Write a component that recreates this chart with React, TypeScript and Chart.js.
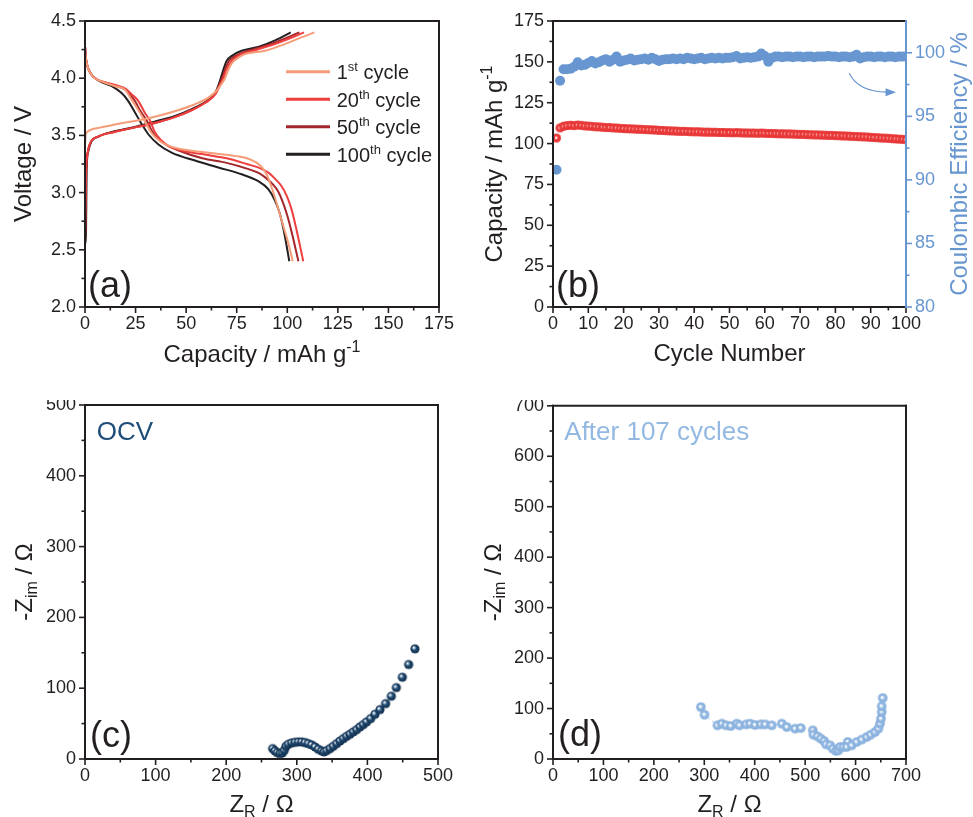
import React, { useEffect, useRef } from 'react';
import { Chart, registerables } from 'chart.js';

Chart.register(...registerables);

const FONT = '"Liberation Sans", Arial, Helvetica, sans-serif';
const INK = '#231F20';
const CE_BLUE = '#6896D0';
const NAVY = '#1E4A72';
const LIGHT_BLUE = '#93B9E3';
const CAP_RED = '#EE3B3B';

// ---------------- Panel (a): charge / discharge profiles ----------------
const A_COLORS = ['#F59C78', '#EE3E3E', '#A3262A', '#231F20'];
const A_LEGEND = [['1', 'st'], ['20', 'th'], ['50', 'th'], ['100', 'th']];

const A_CHG_1: [number, number][] = [[0, 3.42], [0.4, 3.51], [1, 3.53], [3, 3.55], [8, 3.57], [16, 3.6], [26, 3.63], [36, 3.67], [46, 3.72], [54, 3.77], [61, 3.83], [65, 3.89], [67.5, 3.95], [69.2, 4.0], [71, 4.08], [73, 4.14], [75, 4.17], [79, 4.21], [89, 4.24], [99, 4.3], [106, 4.35], [113.4, 4.4]];
const A_CHG_20: [number, number][] = [[0, 2.55], [0.3, 2.9], [0.6, 3.2], [1.2, 3.33], [2.5, 3.43], [6.6, 3.49], [14.8, 3.53], [24.7, 3.57], [34.6, 3.61], [44.5, 3.66], [52.7, 3.72], [60, 3.79], [64.5, 3.86], [66.8, 3.94], [68.4, 4.0], [70, 4.08], [72.5, 4.15], [76, 4.2], [84, 4.245], [95.6, 4.31], [108.3, 4.4]];
const A_CHG_50: [number, number][] = [[0, 2.55], [0.3, 2.95], [0.6, 3.22], [1.2, 3.34], [2.5, 3.43], [6.6, 3.49], [14, 3.53], [23, 3.565], [33, 3.6], [44, 3.66], [52.5, 3.72], [59.5, 3.79], [64, 3.86], [66.3, 3.94], [67.7, 4.0], [69.3, 4.08], [71.2, 4.15], [75, 4.2], [80.7, 4.24], [92, 4.3], [106, 4.4]];
const A_CHG_100: [number, number][] = [[0, 2.55], [0.5, 2.64], [0.8, 3.19], [1.6, 3.36], [3.3, 3.45], [6.6, 3.49], [13.2, 3.53], [21.4, 3.56], [28, 3.59], [36.3, 3.63], [44.5, 3.67], [52.7, 3.73], [59.3, 3.79], [64, 3.86], [66, 3.94], [67.1, 4.0], [68.5, 4.08], [70, 4.15], [73, 4.2], [77.4, 4.24], [86, 4.275], [94, 4.33], [101.7, 4.4]];

const A_DIS_1: [number, number][] = [[0, 4.28], [0.3, 4.2], [1, 4.12], [2.5, 4.05], [5, 4.0], [10, 3.96], [15, 3.93], [19.8, 3.9], [23.4, 3.8], [26.4, 3.72], [29.7, 3.62], [33, 3.52], [36.3, 3.46], [40, 3.42], [46, 3.385], [58, 3.355], [70, 3.33], [80, 3.3], [85, 3.26], [88, 3.21], [90, 3.15], [92, 3.06], [94, 2.95], [96, 2.83], [98.5, 2.68], [100.5, 2.56], [102.7, 2.4]];
const A_DIS_20: [number, number][] = [[0, 4.28], [0.3, 4.2], [1, 4.12], [2.5, 4.05], [5, 4.0], [10, 3.965], [15, 3.94], [20, 3.91], [23, 3.86], [26.4, 3.8], [29.5, 3.7], [32.1, 3.63], [34.5, 3.53], [37.5, 3.46], [42, 3.4], [50, 3.36], [60, 3.33], [70, 3.3], [80, 3.25], [87, 3.21], [91, 3.17], [94, 3.12], [97, 3.06], [99.5, 2.98], [102, 2.86], [104.5, 2.68], [107.9, 2.4]];
const A_DIS_50: [number, number][] = [[0, 4.28], [0.3, 4.2], [1, 4.12], [2.5, 4.05], [5, 4.0], [10, 3.96], [15, 3.935], [20, 3.9], [22.5, 3.85], [24.7, 3.8], [27.5, 3.71], [30.5, 3.63], [33, 3.54], [36, 3.47], [40, 3.42], [46, 3.37], [58, 3.3], [70, 3.26], [80, 3.21], [86, 3.17], [90, 3.12], [93, 3.07], [95.5, 3.01], [97.5, 2.93], [100, 2.8], [102.5, 2.63], [105.5, 2.4]];
const A_DIS_100: [number, number][] = [[0, 4.28], [0.3, 4.2], [1, 4.12], [2.5, 4.05], [6.6, 3.98], [13.2, 3.93], [18.1, 3.87], [21.4, 3.8], [24.7, 3.7], [28, 3.6], [31.3, 3.51], [36.3, 3.42], [42.8, 3.35], [54.4, 3.28], [65.9, 3.22], [77.4, 3.16], [85.7, 3.1], [90.6, 3.03], [93.9, 2.93], [96.4, 2.81], [98.9, 2.61], [101, 2.4]];

// ---------------- Panel (b): cycling ----------------
const B_CYCLE = [1, 2, 3, 4, 5, 6, 7, 8, 9, 10, 11, 12, 13, 14, 15, 16, 17, 18, 19, 20, 21, 22, 23, 24, 25, 26, 27, 28, 29, 30, 31, 32, 33, 34, 35, 36, 37, 38, 39, 40, 41, 42, 43, 44, 45, 46, 47, 48, 49, 50, 51, 52, 53, 54, 55, 56, 57, 58, 59, 60, 61, 62, 63, 64, 65, 66, 67, 68, 69, 70, 71, 72, 73, 74, 75, 76, 77, 78, 79, 80, 81, 82, 83, 84, 85, 86, 87, 88, 89, 90, 91, 92, 93, 94, 95, 96, 97, 98, 99, 100];
const B_CAPACITY = [103.4, 109.6, 110.6, 111.0, 111.2, 111.0, 111.3, 111.1, 110.8, 110.7, 110.5, 110.3, 110.2, 110.0, 109.8, 109.8, 109.6, 109.5, 109.3, 109.2, 109.1, 109.0, 108.9, 108.8, 108.7, 108.6, 108.5, 108.4, 108.3, 108.1, 108.0, 107.9, 107.8, 107.7, 107.6, 107.5, 107.5, 107.4, 107.3, 107.2, 107.2, 107.1, 107.0, 107.0, 106.9, 106.9, 106.8, 106.8, 106.7, 106.7, 106.6, 106.7, 106.6, 106.5, 106.5, 106.4, 106.4, 106.3, 106.4, 106.3, 106.2, 106.2, 106.1, 106.0, 106.0, 105.9, 105.9, 105.8, 105.7, 105.6, 105.6, 105.5, 105.4, 105.3, 105.3, 105.2, 105.1, 105.0, 105.0, 104.9, 104.8, 104.7, 104.6, 104.5, 104.4, 104.3, 104.2, 104.1, 104.0, 103.8, 103.7, 103.6, 103.4, 103.3, 103.2, 103.0, 102.9, 102.7, 102.6, 102.4];
const B_CE = [90.8, 97.8, 98.7, 98.7, 98.75, 98.9, 99.25, 99.0, 99.05, 99.2, 99.35, 99.15, 99.25, 99.4, 99.5, 99.3, 99.45, 99.7, 99.3, 99.4, 99.45, 99.55, 99.4, 99.45, 99.5, 99.55, 99.45, 99.6, 99.5, 99.35, 99.45, 99.5, 99.5, 99.55, 99.5, 99.55, 99.5, 99.6, 99.55, 99.5, 99.55, 99.6, 99.5, 99.55, 99.6, 99.55, 99.6, 99.55, 99.6, 99.6, 99.65, 99.75, 99.55, 99.6, 99.65, 99.6, 99.65, 99.7, 99.95, 99.75, 99.3, 99.6, 99.7, 99.7, 99.65, 99.7, 99.7, 99.65, 99.7, 99.7, 99.65, 99.7, 99.7, 99.65, 99.7, 99.7, 99.7, 99.75, 99.7, 99.7, 99.65, 99.7, 99.7, 99.65, 99.7, 99.85, 99.55, 99.65, 99.7, 99.7, 99.65, 99.7, 99.7, 99.65, 99.7, 99.7, 99.65, 99.7, 99.7, 99.7];
const B_ARROW_CYCLE = [84, 86.5, 94.5, 97.2];
const B_ARROW_CE = [98.35, 96.95, 96.9, 96.9];

// ---------------- Panel (c): EIS at OCV ----------------
const C_ZR = [265.8, 269.1, 272.4, 276.2, 279.5, 282.3, 284.7, 288.0, 292.7, 297.4, 302.2, 306.9, 311.6, 316.3, 321.0, 325.8, 330.5, 335.2, 338.5, 342.3, 347.0, 351.7, 356.5, 361.2, 365.9, 370.6, 375.3, 380.1, 384.8, 389.5, 394.2, 398.9, 404.6, 410.7, 417.8, 425.9, 433.9, 441.0, 449.5, 458.4, 467.4];
const C_ZIM = [14.7, 11.4, 9.0, 7.6, 8.6, 12.3, 18.0, 20.8, 22.7, 23.6, 24.1, 24.1, 23.2, 21.8, 19.9, 17.1, 13.7, 11.4, 10.0, 11.9, 14.7, 18.0, 21.8, 25.5, 28.8, 32.1, 35.0, 38.3, 41.5, 45.3, 48.6, 52.4, 57.1, 63.2, 69.8, 78.3, 88.7, 100.9, 115.5, 133.4, 155.6];

// ---------------- Panel (d): EIS after 107 cycles ----------------
const D_ZR = [293.2, 300.5, 326.2, 334.8, 343.4, 352.6, 364.5, 369.8, 383.0, 390.9, 400.8, 412.1, 420.7, 433.9, 453.7, 463.6, 480.1, 491.3, 515.1, 516.4, 524.3, 531.0, 537.6, 541.5, 549.5, 554.7, 561.3, 566.0, 569.3, 575.9, 584.5, 582.5, 592.4, 602.3, 612.2, 622.1, 630.0, 638.6, 645.2, 648.5, 650.5, 651.8, 651.8, 653.8];
const D_ZIM = [102.9, 87.8, 66.7, 70.0, 66.7, 65.3, 70.0, 66.7, 68.6, 70.0, 67.3, 68.6, 68.6, 66.7, 70.0, 63.4, 60.1, 61.4, 56.8, 48.2, 45.0, 40.3, 35.7, 29.1, 27.1, 20.5, 15.9, 17.2, 23.8, 23.8, 33.7, 23.8, 27.1, 33.7, 38.4, 43.6, 48.3, 53.5, 60.1, 70.0, 79.9, 93.1, 104.3, 120.8];

// ---------------- helpers ----------------
type Seg = [string, string];

function drawRich(ctx: CanvasRenderingContext2D, segs: Seg[], x: number, y: number, size: number, color: string, rotate = false, align = 'center') {
  const small = Math.round(size * 0.65);
  ctx.save();
  ctx.translate(x, y);
  if (rotate) ctx.rotate(-Math.PI / 2);
  let total = 0;
  for (const s of segs) {
    ctx.font = `${s[1] === 'n' ? size : small}px ${FONT}`;
    total += ctx.measureText(s[0]).width;
  }
  let cx = align === 'center' ? -total / 2 : 0;
  ctx.fillStyle = color;
  ctx.textAlign = 'left';
  ctx.textBaseline = 'alphabetic';
  for (const s of segs) {
    const fs = s[1] === 'n' ? size : small;
    ctx.font = `${fs}px ${FONT}`;
    const dy = s[1] === 'sup' ? -size * 0.4 : s[1] === 'sub' ? size * 0.2 : 0;
    ctx.fillText(s[0], cx, dy);
    cx += ctx.measureText(s[0]).width;
  }
  ctx.restore();
}

function makeSphere(r: number, stops: [number, string][], off: number) {
  const s = Math.ceil(r * 2 + 2);
  const c = document.createElement('canvas');
  c.width = s;
  c.height = s;
  const g = c.getContext('2d') as CanvasRenderingContext2D;
  const cx = s / 2;
  const grd = g.createRadialGradient(cx - off * r, cx - off * r, 0, cx, cx, r);
  for (const [p, col] of stops) grd.addColorStop(p, col);
  g.fillStyle = grd;
  g.beginPath();
  g.arc(cx, cx, r, 0, Math.PI * 2);
  g.fill();
  return c;
}

interface TickItem { id: string; side: string; minor: number; major: number; color: string }
interface TextItem { segs: Seg[]; at: (a: any) => [number, number]; size: number; color: string; rotate?: boolean; align?: string }
interface DecorSpec { ticks: TickItem[]; texts: TextItem[]; rightColor?: string; extra?: (chart: any, ctx: CanvasRenderingContext2D) => void }

function decor(spec: DecorSpec) {
  return {
    id: 'decor',
    afterDraw(chart: any) {
      const ctx: CanvasRenderingContext2D = chart.ctx;
      const a = chart.chartArea;
      ctx.save();
      for (const t of spec.ticks) {
        const s = chart.scales[t.id];
        const n = Math.round((s.max - s.min) / t.minor);
        ctx.strokeStyle = t.color;
        ctx.lineWidth = 1.6;
        for (let i = 0; i <= n; i++) {
          const v = s.min + i * t.minor;
          const q = v / t.major;
          const major = Math.abs(q - Math.round(q)) < 1e-6;
          if (!major && (i === 0 || i === n)) continue;
          const len = major ? 6 : 3.5;
          const p = s.getPixelForValue(v);
          ctx.beginPath();
          if (t.side === 'bottom') { ctx.moveTo(p, a.bottom); ctx.lineTo(p, a.bottom + len); }
          else if (t.side === 'left') { ctx.moveTo(a.left, p); ctx.lineTo(a.left - len, p); }
          else { ctx.moveTo(a.right, p); ctx.lineTo(a.right + len, p); }
          ctx.stroke();
        }
      }
      ctx.lineWidth = 2;
      ctx.lineCap = 'square';
      const seg = (x1: number, y1: number, x2: number, y2: number, c: string) => {
        ctx.strokeStyle = c;
        ctx.beginPath();
        ctx.moveTo(x1, y1);
        ctx.lineTo(x2, y2);
        ctx.stroke();
      };
      seg(a.left, a.top, a.right, a.top, INK);
      seg(a.left, a.bottom, a.right, a.bottom, INK);
      seg(a.left, a.top, a.left, a.bottom, INK);
      seg(a.right, a.top, a.right, a.bottom, spec.rightColor || INK);
      for (const t of spec.texts) {
        const [x, y] = t.at(a);
        drawRich(ctx, t.segs, x, y, t.size, t.color, !!t.rotate, t.align || 'center');
      }
      if (spec.extra) spec.extra(chart, ctx);
      ctx.restore();
    },
  };
}

const tickFont = { family: FONT, size: 18 };
const fitX = (h: number) => (s: any) => { s.height = h; s.paddingLeft = 0; s.paddingRight = 0; };
const fitY = (w: number) => (s: any) => { s.width = w; s.paddingTop = 0; s.paddingBottom = 0; };

function axis(min: number, max: number, step: number, fit: any, extra: any = {}) {
  return {
    type: 'linear',
    min,
    max,
    grid: { display: false, drawTicks: true, tickLength: 6 },
    border: { display: false },
    ticks: { stepSize: step, font: tickFont, color: INK, autoSkip: false, maxRotation: 0, includeBounds: false, padding: 3, ...(extra.ticks || {}) },
    afterFit: fit,
    ...(extra.rest || {}),
  };
}

const baseOptions = (padding: any) => ({
  responsive: false,
  animation: false,
  events: [],
  layout: { padding },
  plugins: { legend: { display: false }, tooltip: { enabled: false } },
});

const toPts = (xs: number[], ys: number[]) => xs.map((x, i) => ({ x, y: ys[i] }));

function configA() {
  const line = (label: string, pts: [number, number][], color: string) => ({
    label,
    data: pts.map(([x, y]) => ({ x, y })),
    borderColor: color,
    backgroundColor: color,
    borderWidth: 2,
    pointRadius: 0,
    showLine: true,
    cubicInterpolationMode: 'monotone',
    fill: false,
  });
  const chg = [A_CHG_1, A_CHG_20, A_CHG_50, A_CHG_100];
  const dis = [A_DIS_1, A_DIS_20, A_DIS_50, A_DIS_100];
  const datasets: any[] = [];
  for (let i = 0; i < 4; i++) {
    const lbl = A_LEGEND[i][0] + A_LEGEND[i][1] + ' cycle';
    datasets.push(line(lbl + ' charge', chg[i], A_COLORS[i]));
    datasets.push(line(lbl + ' discharge', dis[i], A_COLORS[i]));
  }
  return {
    type: 'scatter',
    data: { datasets },
    options: {
      ...baseOptions({ top: 21, right: 41, left: 0, bottom: 0 }),
      scales: {
        x: axis(0, 175, 25, fitX(93), { ticks: { padding: 0 } }),
        y: axis(2, 4.5, 0.5, fitY(85), { ticks: { callback: (v: any) => Number(v).toFixed(1) } }),
      },
    },
    plugins: [decor({
      ticks: [
        { id: 'x', side: 'bottom', minor: 12.5, major: 25, color: INK },
        { id: 'y', side: 'left', minor: 0.25, major: 0.5, color: INK },
      ],
      texts: [
        { segs: [['(a)', 'n']], at: (a) => [a.left + 3, a.bottom - 10], size: 36, color: INK, align: 'left' },
        { segs: [['Capacity / mAh g', 'n'], ['-1', 'sup']], at: (a) => [(a.left + a.right) / 2, a.bottom + 54.5], size: 24, color: INK },
        { segs: [['Voltage / V', 'n']], at: (a) => [a.left - 54, (a.top + a.bottom) / 2], size: 24, color: INK, rotate: true },
      ],
      extra: (chart, ctx) => {
        const a = chart.chartArea;
        for (let i = 0; i < 4; i++) {
          const y = a.top + 50.7 + i * 27.5;
          ctx.strokeStyle = A_COLORS[i];
          ctx.lineWidth = 3;
          ctx.lineCap = 'butt';
          ctx.beginPath();
          ctx.moveTo(a.left + 201, y);
          ctx.lineTo(a.left + 245, y);
          ctx.stroke();
          drawRich(ctx, [[A_LEGEND[i][0], 'n'], [A_LEGEND[i][1], 'sup'], [' cycle', 'n']], a.left + 251.7, y + 7.5, 20, INK, false, 'left');
        }
      },
    })],
  };
}

function configB() {
  const redSphere = makeSphere(4.5, [[0, '#ffffff'], [0.12, '#ffffff'], [0.42, CAP_RED], [1, '#E43434']], 0.1);
  return {
    type: 'scatter',
    data: {
      datasets: [
        { label: 'Capacity', data: toPts(B_CYCLE, B_CAPACITY), yAxisID: 'y', pointStyle: redSphere, pointRadius: 4.5, borderWidth: 0, backgroundColor: CAP_RED, borderColor: CAP_RED },
        { label: 'Coulombic Efficiency', data: toPts(B_CYCLE, B_CE), yAxisID: 'y2', pointStyle: 'circle', pointRadius: 5, borderWidth: 0, backgroundColor: CE_BLUE, borderColor: CE_BLUE },
      ],
    },
    options: {
      ...baseOptions({ top: 21, right: 0, left: 0, bottom: 0 }),
      scales: {
        x: axis(0, 100, 10, fitX(93), { ticks: { padding: 0 } }),
        y: axis(0, 175, 25, fitY(73)),
        y2: axis(80, 102.5, 5, fitY(67), { ticks: { color: CE_BLUE, callback: (v: any) => (Number(v) % 5 === 0 ? String(v) : '') }, rest: { position: 'right' } }),
      },
    },
    plugins: [decor({
      rightColor: CE_BLUE,
      ticks: [
        { id: 'x', side: 'bottom', minor: 5, major: 10, color: INK },
        { id: 'y', side: 'left', minor: 12.5, major: 25, color: INK },
        { id: 'y2', side: 'right', minor: 2.5, major: 5, color: CE_BLUE },
      ],
      texts: [
        { segs: [['(b)', 'n']], at: (a) => [a.left + 3, a.bottom - 10], size: 36, color: INK, align: 'left' },
        { segs: [['Cycle Number', 'n']], at: (a) => [(a.left + a.right) / 2, a.bottom + 53.5], size: 24, color: INK },
        { segs: [['Capacity / mAh g', 'n'], ['-1', 'sup']], at: (a) => [a.left - 51, (a.top + a.bottom) / 2], size: 24, color: INK, rotate: true },
        { segs: [['Coulombic Efficiency / %', 'n']], at: (a) => [a.right + 61, (a.top + a.bottom) / 2], size: 24, color: CE_BLUE, rotate: true },
      ],
      extra: (chart, ctx) => {
        const xs = chart.scales.x;
        const ys = chart.scales.y2;
        const p = B_ARROW_CYCLE.map((v, i) => [xs.getPixelForValue(v), ys.getPixelForValue(B_ARROW_CE[i])]);
        ctx.strokeStyle = CE_BLUE;
        ctx.fillStyle = CE_BLUE;
        ctx.lineWidth = 1.2;
        ctx.beginPath();
        ctx.moveTo(p[0][0], p[0][1]);
        ctx.quadraticCurveTo(p[1][0], p[1][1], p[2][0], p[2][1]);
        ctx.stroke();
        ctx.beginPath();
        ctx.moveTo(p[3][0], p[3][1]);
        ctx.lineTo(p[2][0] - 1, p[2][1] - 4);
        ctx.lineTo(p[2][0] - 1, p[2][1] + 4);
        ctx.closePath();
        ctx.fill();
      },
    })],
  };
}

function configC() {
  const sphere = makeSphere(4.6, [[0, '#ffffff'], [0.15, '#d9e2ec'], [0.5, NAVY], [1, '#132e4a']], 0.35);
  return {
    type: 'scatter',
    data: {
      datasets: [
        { label: 'OCV', data: toPts(C_ZR, C_ZIM), pointStyle: sphere, pointRadius: 4.6, borderWidth: 0, backgroundColor: NAVY, borderColor: NAVY },
      ],
    },
    options: {
      ...baseOptions({ top: 5, right: 42, left: 0, bottom: 0 }),
      scales: {
        x: axis(0, 500, 100, fitX(58), { ticks: { padding: 0 } }),
        y: axis(0, 500, 100, fitY(85)),
      },
    },
    plugins: [decor({
      ticks: [
        { id: 'x', side: 'bottom', minor: 50, major: 100, color: INK },
        { id: 'y', side: 'left', minor: 50, major: 100, color: INK },
      ],
      texts: [
        { segs: [['(c)', 'n']], at: (a) => [a.left + 5, a.bottom - 11.7], size: 36, color: INK, align: 'left' },
        { segs: [['OCV', 'n']], at: (a) => [a.left + 11.7, a.top + 34.6], size: 26, color: '#1F4E79', align: 'left' },
        { segs: [['Z', 'n'], ['R', 'sub'], [' / Ω', 'n']], at: (a) => [(a.left + a.right) / 2, a.bottom + 53], size: 24, color: INK },
        { segs: [['-Z', 'n'], ['im', 'sub'], [' / Ω', 'n']], at: (a) => [a.left - 53, (a.top + a.bottom) / 2], size: 24, color: INK, rotate: true },
      ],
    })],
  };
}

function configD() {
  const sphere = makeSphere(4.8, [[0, '#ffffff'], [0.15, '#ffffff'], [0.48, LIGHT_BLUE], [1, '#86AEDB']], 0.15);
  return {
    type: 'scatter',
    data: {
      datasets: [
        { label: 'After 107 cycles', data: toPts(D_ZR, D_ZIM), pointStyle: sphere, pointRadius: 4.8, showLine: true, borderWidth: 1, borderDash: [3, 3], borderColor: 'rgba(147,185,227,0.7)', backgroundColor: LIGHT_BLUE },
      ],
    },
    options: {
      ...baseOptions({ top: 5, right: 67, left: 0, bottom: 0 }),
      scales: {
        x: axis(0, 700, 100, fitX(58), { ticks: { padding: 0 } }),
        y: axis(0, 700, 100, fitY(73)),
      },
    },
    plugins: [decor({
      ticks: [
        { id: 'x', side: 'bottom', minor: 50, major: 100, color: INK },
        { id: 'y', side: 'left', minor: 50, major: 100, color: INK },
      ],
      texts: [
        { segs: [['(d)', 'n']], at: (a) => [a.left + 5, a.bottom - 12.7], size: 36, color: INK, align: 'left' },
        { segs: [['After 107 cycles', 'n']], at: (a) => [a.left + 11.3, a.top + 34.3], size: 26, color: LIGHT_BLUE, align: 'left' },
        { segs: [['Z', 'n'], ['R', 'sub'], [' / Ω', 'n']], at: (a) => [(a.left + a.right) / 2, a.bottom + 53], size: 24, color: INK },
        { segs: [['-Z', 'n'], ['im', 'sub'], [' / Ω', 'n']], at: (a) => [a.left - 52.5, (a.top + a.bottom) / 2], size: 24, color: INK, rotate: true },
      ],
    })],
  };
}

function Panel({ make, left, top, width, height }: { make: () => any; left: number; top: number; width: number; height: number }) {
  const ref = useRef<HTMLCanvasElement>(null);
  useEffect(() => {
    const chart = new Chart(ref.current as HTMLCanvasElement, make());
    return () => chart.destroy();
  }, []);
  return (
    <div style={{ position: 'absolute', left, top, width, height }}>
      <canvas ref={ref} width={width} height={height} style={{ display: 'block', width, height }} />
    </div>
  );
}

export default function App() {
  return (
    <div style={{ position: 'absolute', left: 0, top: 0, width: 973, height: 817, background: '#ffffff', overflow: 'hidden' }}>
      <Panel make={configA} left={0} top={0} width={480} height={400} />
      <Panel make={configB} left={480} top={0} width={493} height={400} />
      <Panel make={configC} left={0} top={400} width={480} height={417} />
      <Panel make={configD} left={480} top={400} width={493} height={417} />
    </div>
  );
}
